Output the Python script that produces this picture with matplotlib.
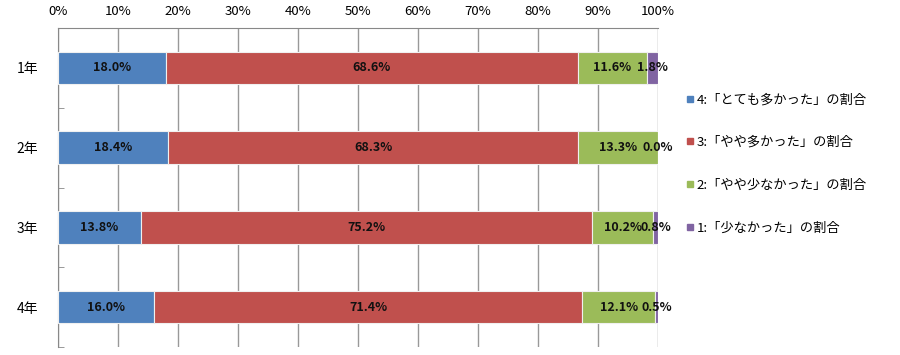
import matplotlib
matplotlib.use("Agg")
import matplotlib.pyplot as plt
from matplotlib.lines import Line2D

plt.rcParams['font.family'] = ['Noto Sans CJK JP', 'DejaVu Sans']

# Data
grades = ['1年', '2年', '3年', '4年']
very_many = [18.0, 18.4, 13.8, 16.0]
some_many = [68.6, 68.3, 75.2, 71.4]
some_few = [11.6, 13.3, 10.2, 12.1]
few = [1.8, 0.0, 0.8, 0.5]

series = [very_many, some_many, some_few, few]
labels = ['4:「とても多かった」の割合', '3:「やや多かった」の割合',
          '2:「やや少なかった」の割合', '1:「少なかった」の割合']
colors = ['#4F81BD', '#C0504D', '#9BBB59', '#8064A2']

fig = plt.figure(figsize=(9, 3.55), dpi=100)
ax = fig.add_axes([0.0644, 0.0225, 0.6667, 0.8985])

y = list(range(len(grades)))
left = [0.0] * len(grades)
for vals, col in zip(series, colors):
    ax.barh(y, vals, left=left, height=0.41, color=col,
            edgecolor='#f0f0f0', linewidth=0.8, zorder=3)
    for i, v in enumerate(vals):
        ax.text(left[i] + v / 2, y[i], f'{v:.1f}%', ha='center', va='center',
                fontsize=9, fontweight='bold', color='#111111', zorder=4)
    left = [l + v for l, v in zip(left, vals)]

ax.set_xlim(0, 100)
ax.set_ylim(3.5, -0.5)
ax.set_xticks(range(0, 101, 10))
ax.set_xticklabels([f'{t}%' for t in range(0, 101, 10)], fontsize=9.5)
ax.xaxis.tick_top()
ax.tick_params(axis='x', length=0, pad=7)
ax.grid(axis='x', color='#999999', linewidth=1, zorder=0)

ax.set_yticks(y)
ax.set_yticklabels(grades, fontsize=10)
ax.tick_params(axis='y', length=0, pad=14)
ax.set_yticks([-0.5, 0.5, 1.5, 2.5, 3.5], minor=True)
ax.tick_params(axis='y', which='minor', direction='in', length=4,
               color='#888888')

for side in ['right', 'bottom']:
    ax.spines[side].set_visible(False)
for side in ['left', 'top']:
    ax.spines[side].set_color('#888888')

handles = [Line2D([], [], marker='s', linestyle='none', markersize=5,
                  markerfacecolor=c, markeredgecolor=c) for c in colors]
fig.legend(handles, labels, loc='upper left', bbox_to_anchor=(0.762, 0.737),
           frameon=False, fontsize=9.5, handlelength=0.6, handletextpad=0.2,
           labelspacing=2.25, borderpad=0, borderaxespad=0)

fig.savefig('out.png')
